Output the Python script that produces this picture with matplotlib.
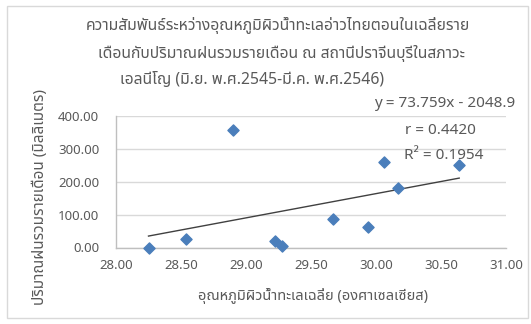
import matplotlib
matplotlib.use('Agg')
import matplotlib.pyplot as plt
from matplotlib.patches import Rectangle

plt.rcParams['font.family'] = ['Noto Sans', 'Noto Sans Thai', 'DejaVu Sans']

# sea surface temperature (deg C) vs monthly rainfall (mm)
sst = [28.90, 30.06, 30.64, 30.17, 29.67, 29.94, 28.25, 28.54, 29.22, 29.28]
rain = [357, 261, 252, 182, 87, 62, 0, 27, 20, 5]

slope = 73.759
intercept = -2048.9
r_text = 'r = 0.4420'
r2_text = 'R² = 0.1954'

title_lines = [
    'ความสัมพันธ์ระหว่างอุณหภูมิผิวน้ำทะเลอ่าวไทยตอนในเฉลี่ยราย',
    'เดือนกับปริมาณฝนรวมรายเดือน ณ สถานีปราจีนบุรีในสภาวะ',
    'เอลนีโญ (มิ.ย. พ.ศ.2545-มี.ค. พ.ศ.2546)',
]
xlabel = 'อุณหภูมิผิวน้ำทะเลเฉลี่ย (องศาเซลเซียส)'
ylabel = 'ปริมาณฝนรวมรายเดือน (มิลลิเมตร)'

W, H = 531, 324
fig = plt.figure(figsize=(W / 100, H / 100), dpi=100)

# chart border
fig.patches.append(Rectangle((7 / W, 1 - 318 / H), 521 / W, 312 / H,
                             transform=fig.transFigure, fill=False,
                             edgecolor='#d9d9d9', lw=1))

ax = fig.add_axes([116 / W, 1 - 247.5 / H, 390 / W, 131.5 / H])
ax.set_xlim(28, 31)
ax.set_ylim(0, 400)
ax.set_xticks([28, 28.5, 29, 29.5, 30, 30.5, 31])
ax.set_yticks([0, 100, 200, 300, 400])
ax.xaxis.set_major_formatter(matplotlib.ticker.FormatStrFormatter('%.2f'))
ax.yaxis.set_major_formatter(matplotlib.ticker.FormatStrFormatter('%.2f'))
ax.tick_params(length=0, labelsize=9.5, labelcolor='#595959')
ax.tick_params(axis='y', pad=12)
ax.tick_params(axis='x', pad=8)
ax.grid(axis='y', color='#d9d9d9', lw=1)
ax.set_axisbelow(True)
for s in ['top', 'right']:
    ax.spines[s].set_visible(False)
for s in ['left', 'bottom']:
    ax.spines[s].set_color('#bfbfbf')
    ax.spines[s].set_linewidth(1)

ax.scatter(sst, rain, marker='D', s=32, color='#4a7ebb', zorder=3, clip_on=False)

x0, x1 = min(sst), max(sst)
ax.plot([x0, x1], [slope * x0 + intercept, slope * x1 + intercept],
        color='#404040', lw=1, zorder=2)

eq = 'y = %.3fx - %.1f' % (slope, -intercept)
fig.text(445 / W, 1 - 103 / H, eq, ha='center', va='center', fontsize=11, color='#595959')
fig.text(440 / W, 1 - 130 / H, r_text, ha='center', va='center', fontsize=11, color='#595959')
fig.text(444 / W, 1 - 156 / H, r2_text, ha='center', va='center', fontsize=11, color='#595959')

title_x = [278, 281, 252]
title_y = [25, 53, 80]
for t, tx, ty in zip(title_lines, title_x, title_y):
    fig.text(tx / W, 1 - ty / H, t, ha='center', va='center', fontsize=11.3, color='#595959')

fig.text(313 / W, 1 - 296 / H, xlabel, ha='center', va='center', fontsize=10.5, color='#595959')
fig.text(40 / W, 1 - 197 / H, ylabel, ha='center', va='center', rotation=90,
         fontsize=11, color='#595959')

fig.savefig('out.png', dpi=100)
